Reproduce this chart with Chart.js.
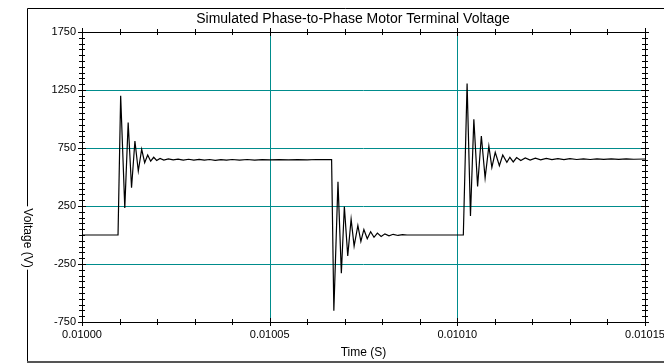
<!DOCTYPE html>
<html>
<head>
<meta charset="utf-8">
<script src="https://cdn.jsdelivr.net/npm/chart.js@4.4.1/dist/chart.umd.min.js"></script>
<style>
  html, body { margin: 0; padding: 0; background: #fff; }
  #wrap { width: 664px; height: 364px; }
</style>
</head>
<body>
<div id="wrap"><canvas id="cVolt" width="664" height="364"></canvas></div>
<script>
// time (s) and voltage (V)
const timeS = [
  0.0100000, 0.0100096, 0.0100103, 0.0100114, 0.0100123, 0.0100132, 0.0100141, 0.0100150,
  0.0100159, 0.0100167, 0.0100175, 0.0100183, 0.0100191, 0.0100199, 0.0100208, 0.0100218,
  0.0100230, 0.0100243, 0.0100256, 0.0100270, 0.0100284, 0.0100298, 0.0100312, 0.0100326,
  0.0100340, 0.0100355, 0.0100370, 0.0100385, 0.0100400, 0.0100420, 0.0100440, 0.0100460,
  0.0100480, 0.0100500, 0.0100525, 0.0100550, 0.0100575, 0.0100600, 0.0100625, 0.0100650,
  0.0100665,
  0.0100671, 0.0100682, 0.0100691, 0.0100699, 0.0100708, 0.0100717, 0.0100725, 0.0100735,
  0.0100743, 0.0100751, 0.0100760, 0.0100769, 0.0100778, 0.0100787, 0.0100797, 0.0100807,
  0.0100818, 0.0100829, 0.0100842, 0.0100854, 0.0100866, 0.0101016,
  0.0101026, 0.0101035, 0.0101044, 0.0101054, 0.0101064, 0.0101074, 0.0101084, 0.0101092,
  0.0101101, 0.0101112, 0.0101121, 0.0101132, 0.0101140, 0.0101149, 0.0101158, 0.0101169,
  0.0101181, 0.0101194, 0.0101208, 0.0101222, 0.0101237, 0.0101252, 0.0101268, 0.0101284,
  0.0101300, 0.0101318, 0.0101336, 0.0101354, 0.0101372, 0.0101390, 0.0101410, 0.0101430,
  0.0101450, 0.0101470, 0.0101500
];
const voltV = [
  0, 0, 1200, 234, 970, 407, 810, 551,
  739, 624, 690, 636, 670, 642, 660, 646,
  656, 647, 654, 646, 653, 645, 652, 645,
  651, 644, 650, 645, 651, 646, 651, 646,
  650, 647, 650, 647, 650, 648, 651, 649,
  650,
  -653, 458, -330, 245, -180, 137, -95, 82,
  -55, 48, -32, 28, -20, 16, -12, 10,
  -7, 6, -4, 3, 0, 0,
  1305, 164, 998, 419, 853, 492, 765, 583,
  713, 597, 690, 626, 670, 630, 668, 642,
  664, 646, 662, 648, 660, 650, 659, 650,
  658, 651, 657, 651, 657, 652, 656, 652,
  656, 653, 655
];

const xLabelTicks = [0.01000, 0.01005, 0.01010, 0.01015];
const yLabelTicks = [-750, -250, 250, 750, 1250, 1750];
const xGrid = [0.01005, 0.01010];
const yGrid = [-250, 250, 750, 1250];

const TITLE  = 'Simulated Phase-to-Phase Motor Terminal Voltage';
const XTITLE = 'Time (S)';
const YTITLE = 'Voltage (V)';

const FONT = '"Liberation Sans", Arial, sans-serif';
const TEAL = 'rgb(0,140,140)';
const near = (list, v, eps) => list.some(g => Math.abs(g - v) < eps);

// teal grid lines under the trace
const gridPlugin = {
  id: 'tealGrid',
  beforeDatasetsDraw(chart) {
    const { ctx, chartArea: a, scales: { x, y } } = chart;
    ctx.save();
    ctx.strokeStyle = TEAL;
    ctx.lineWidth = 1;
    ctx.beginPath();
    xGrid.forEach(v => {
      const px = Math.round(x.getPixelForValue(v)) + 0.5;
      ctx.moveTo(px, a.top); ctx.lineTo(px, a.bottom);
    });
    yGrid.forEach(v => {
      const py = Math.round(y.getPixelForValue(v)) + 0.5;
      ctx.moveTo(a.left, py); ctx.lineTo(a.right, py);
    });
    ctx.stroke();
    ctx.restore();
  }
};

const framePlugin = {
  id: 'frame',
  afterDraw(chart) {
    const { ctx, chartArea: a, scales: { x, y } } = chart;
    ctx.save();

    // plot box
    ctx.strokeStyle = '#000';
    ctx.lineWidth = 1;
    ctx.strokeRect(a.left + 0.5, a.top + 0.5, a.right - a.left, a.bottom - a.top);

    // tick marks on all four sides
    ctx.beginPath();
    x.ticks.forEach(t => {
      const px = Math.round(x.getPixelForValue(t.value)) + 0.5;
      const len = near(xLabelTicks, t.value, 1e-9) ? 4 : 3;
      ctx.moveTo(px, a.bottom - len); ctx.lineTo(px, a.bottom + len);
      ctx.moveTo(px, a.top - len);    ctx.lineTo(px, a.top + len);
    });
    y.ticks.forEach(t => {
      const py = Math.round(y.getPixelForValue(t.value)) + 0.5;
      const len = near(yLabelTicks, t.value, 1e-6) ? 4 : 3;
      ctx.moveTo(a.left - len, py);  ctx.lineTo(a.left + len, py);
      ctx.moveTo(a.right - len, py); ctx.lineTo(a.right + len, py);
    });
    ctx.stroke();

    // outer frame
    ctx.beginPath();
    ctx.moveTo(27.5, 362); ctx.lineTo(27.5, 8.5); ctx.lineTo(664, 8.5);
    ctx.stroke();
    ctx.strokeStyle = '#555';
    ctx.lineWidth = 2;
    ctx.beginPath();
    ctx.moveTo(27, 362); ctx.lineTo(664, 362);
    ctx.stroke();

    // title and axis titles
    ctx.fillStyle = '#000';
    ctx.textAlign = 'center';
    ctx.textBaseline = 'middle';
    ctx.font = '14px ' + FONT;
    ctx.fillText(TITLE, 353, 19);
    ctx.font = '12px ' + FONT;
    ctx.fillText(XTITLE, (a.left + a.right) / 2, 353);

    ctx.translate(27, 238);
    ctx.rotate(Math.PI / 2);
    const w = ctx.measureText(YTITLE).width;
    ctx.fillStyle = '#fff';
    ctx.fillRect(-w / 2 - 2, -7, w + 4, 14);
    ctx.fillStyle = '#000';
    ctx.fillText(YTITLE, 0, 0);
    ctx.restore();
  }
};

new Chart(document.getElementById('cVolt'), {
  type: 'line',
  data: {
    datasets: [{
      data: timeS.map((t, i) => ({ x: t, y: voltV[i] })),
      borderColor: '#000',
      borderWidth: 1.2,
      pointRadius: 0,
      tension: 0,
      fill: false,
    }],
  },
  options: {
    responsive: false,
    animation: false,
    layout: { padding: { left: 0, right: 19, top: 32, bottom: 0 } },
    plugins: { legend: { display: false }, tooltip: { enabled: false }, title: { display: false } },
    scales: {
      x: {
        type: 'linear', min: 0.01, max: 0.01015,
        border: { display: false },
        grid: { display: false, drawTicks: false },
        ticks: {
          stepSize: 0.00001, maxTicksLimit: 100, autoSkip: false, maxRotation: 0,
          padding: 6, color: '#000', font: { family: FONT, size: 11 },
          callback: v => near(xLabelTicks, v, 1e-9) ? v.toFixed(5) : '',
        },
        afterFit: s => { s.height = 42; s.paddingLeft = 0; s.paddingRight = 0; },
      },
      y: {
        min: -750, max: 1750,
        border: { display: false },
        grid: { display: false, drawTicks: false },
        ticks: {
          stepSize: 50, maxTicksLimit: 100, autoSkip: false,
          padding: 6, color: '#000', font: { family: FONT, size: 11 },
          callback: v => near(yLabelTicks, v, 1e-6) ? String(v) : '',
        },
        afterFit: s => { s.width = 82; s.paddingTop = 0; s.paddingBottom = 0; },
      },
    },
  },
  plugins: [gridPlugin, framePlugin],
});
</script>
</body>
</html>
